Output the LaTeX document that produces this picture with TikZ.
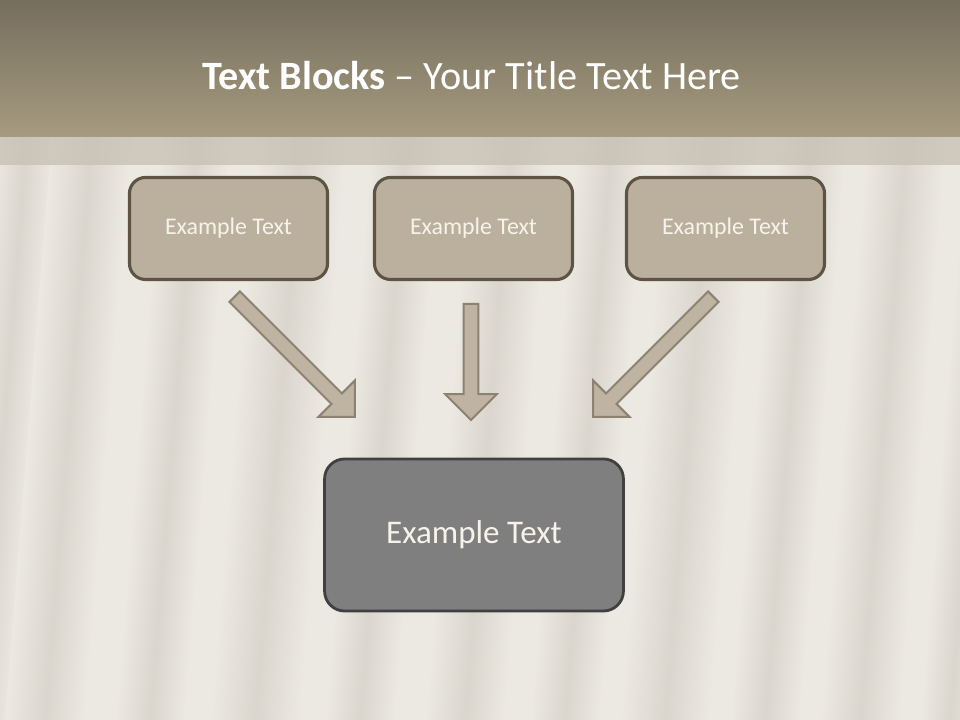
\documentclass[tikz,border=0pt]{standalone}
\usepackage{fontspec}
\setmainfont{Carlito}
\usetikzlibrary{shapes,arrows,positioning}

\definecolor{bgbase}{HTML}{ECE9E2}
\definecolor{bgdark}{HTML}{DAD6CE}
\definecolor{titletop}{HTML}{766E5D}
\definecolor{titlebot}{HTML}{A69B80}
\definecolor{stripc}{HTML}{C8C2B5}
\definecolor{boxfill}{HTML}{BBB09D}
\definecolor{boxline}{HTML}{5E5443}
\definecolor{boxtext}{HTML}{F7F3EB}
\definecolor{mainfill}{HTML}{7F7F7F}
\definecolor{mainline}{HTML}{404040}
\definecolor{arrowfill}{HTML}{BFB4A1}
\definecolor{arrowline}{HTML}{8B8272}

\begin{document}
\begin{tikzpicture}[x=0.025cm, y=0.025cm,
    topbox/.style={draw=boxline, line width=2.2pt, fill=boxfill, rounded corners=0.4cm,
        minimum width=4.95cm, minimum height=2.55cm, text=boxtext,
        font=\fontsize{17}{20}\selectfont},
    mainbox/.style={draw=mainline, line width=2pt, fill=mainfill, rounded corners=0.5cm,
        minimum width=7.47cm, minimum height=3.8cm, text=boxtext,
        font=\fontsize{23.5}{28}\selectfont},
    blockarrow/.style={single arrow, draw=arrowline, fill=arrowfill, line width=1.4pt,
        inner sep=0pt, inner ysep=0.16cm, single arrow head extend=0.46cm, anchor=tail}]
    \useasboundingbox (0,0) rectangle (960,720);

    % background cloth
    \fill[bgbase] (0,0) rectangle (960,720);
    \begin{scope}
        \clip (0,0) rectangle (960,720);
        \begin{scope}[transform canvas={xslant=0.08}]
            \foreach \c/\w in {-20/60, 45/80, 150/70, 255/90, 360/70, 465/80, 565/70,
                               665/90, 765/70, 860/80, 950/60} {
                \shade[left color=bgbase, right color=bgbase, middle color=bgdark]
                    (\c-\w/2,0) rectangle (\c+\w/2,720);
            }
        \end{scope}
    \end{scope}

    % title band
    \shade[top color=titletop, bottom color=titlebot] (0,583) rectangle (960,720);
    \fill[stripc, opacity=0.8] (0,555) rectangle (960,583);
    \node[text=white, font=\fontsize{28.6}{34}\selectfont] (title) at (471.5,644)
        {\textbf{Text Blocks} -- Your Title Text Here};

    % blocks
    \node[topbox] (left) at (228.5,491.5) {Example Text};
    \node[topbox] (mid) at (473.5,491.5) {Example Text};
    \node[topbox] (right) at (725.5,491.5) {Example Text};
    \node[mainbox] (result) at (474,185) {Example Text};

    % arrows
    \coordinate (tl) at (234,424);
    \coordinate (tm) at (471,417);
    \coordinate (tr) at (714,424);
    \node[blockarrow, minimum height=4.25cm, rotate=-45] (al) at (tl) {};
    \node[blockarrow, minimum height=2.9cm, rotate=-90] (am) at (tm) {};
    \node[blockarrow, minimum height=4.25cm, rotate=-135] (ar) at (tr) {};
\end{tikzpicture}
\end{document}
